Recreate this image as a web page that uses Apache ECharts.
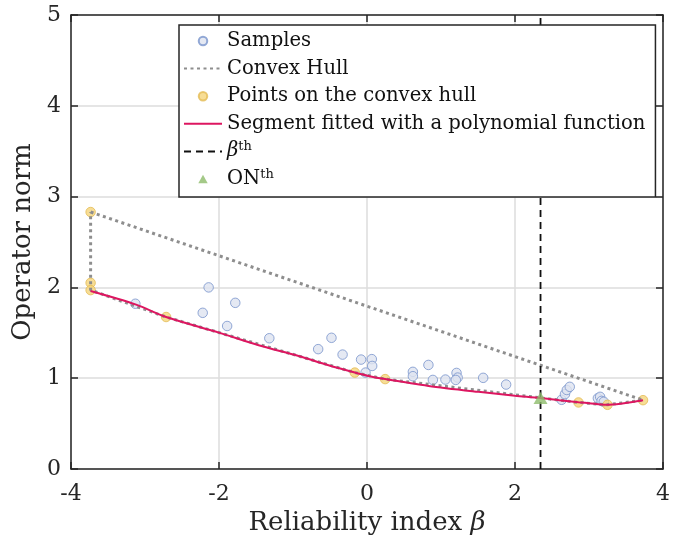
<!DOCTYPE html>
<html>
<head>
<meta charset="utf-8">
<script src="https://cdn.jsdelivr.net/npm/echarts@6/dist/echarts.min.js"></script>
<style>
  html, body { margin: 0; padding: 0; background: #fff; }
  #chart { width: 673px; height: 542px; }
</style>
</head>
<body>
<div id="chart"></div>
<script>
const FONT = 'DejaVu Serif'
const INK = '#262626'

// samples (beta, operator norm)
const sampleX = [-3.13, -2.14, -2.22, -1.78, -1.89, -1.32, -0.66, -0.48, -0.33, -0.08, 0.065, 0.07, -0.02, 0.62, 0.62, 0.83, 0.89, 1.06, 1.21, 1.225, 1.20, 1.57, 1.88, 2.63, 2.675, 2.70, 2.74, 3.12, 3.15, 3.17, 3.20]
const sampleY = [1.82, 2.00, 1.72, 1.83, 1.575, 1.44, 1.32, 1.445, 1.26, 1.205, 1.21, 1.135, 1.062, 1.07, 1.022, 1.146, 0.981, 0.985, 1.058, 1.007, 0.981, 1.004, 0.93, 0.762, 0.824, 0.87, 0.905, 0.78, 0.795, 0.75, 0.74]

// convex hull outline, in drawing order
const hullX = [-3.735, 3.73, 3.25, 2.858, 0.245, -0.165, -2.715, -3.735, -3.735, -3.735]
const hullY = [2.83, 0.758, 0.707, 0.733, 0.99, 1.062, 1.674, 1.97, 2.05, 2.83]

// points on the convex hull
const hullPtX = [-3.735, -3.735, -3.735, -2.715, -0.165, 0.245, 2.858, 3.25, 3.73]
const hullPtY = [2.83, 2.05, 1.97, 1.674, 1.062, 0.99, 0.733, 0.707, 0.758]

// fitted segment
const fitX = [-3.735, -3.13, -2.715, -2.0, -1.464, -0.924, -0.52, -0.165, 0.02, 0.245, 0.83, 1.505, 2.0, 2.345, 2.6, 2.858, 3.0, 3.23, 3.73]
const fitY = [1.96, 1.813, 1.674, 1.502, 1.363, 1.245, 1.143, 1.063, 1.025, 0.99, 0.915, 0.85, 0.808, 0.782, 0.757, 0.735, 0.725, 0.708, 0.758]

// thresholds
const betaTh = 2.345
const onTh = 0.782

const xTicks = [-4, 4, 2]   // min, max, interval
const yTicks = [0, 5, 1]

const pairs = (xs, ys) => xs.map((x, i) => [x, ys[i]])

const chart = echarts.init(document.getElementById('chart'))

const axisCommon = {
  type: 'value',
  axisLine: { show: true, onZero: false, lineStyle: { color: INK, width: 1.5 } },
  axisTick: { show: true, inside: true, length: 7, lineStyle: { color: INK, width: 1.5 } },
}

chart.setOption({
  animation: false,
  backgroundColor: '#fff',
  textStyle: { fontFamily: FONT },
  grid: { left: 71, right: 8, top: 15, bottom: 73, containLabel: false },
  legend: {
    orient: 'vertical',
    left: 179,
    top: 25,
    padding: [5, 10, 7, 4],
    itemWidth: 38,
    itemHeight: 8.5,
    itemGap: 5.6,
    backgroundColor: '#fff',
    borderColor: INK,
    borderWidth: 1.5,
    borderRadius: 0,
    selectedMode: false,
    symbolKeepAspect: true,
    textStyle: {
      fontFamily: FONT,
      fontSize: 19.6,
      lineHeight: 22,
      color: '#111',
      rich: {
        it: { fontFamily: FONT, fontSize: 19.6, lineHeight: 22, fontStyle: 'italic', color: '#111' },
        sup: { fontFamily: FONT, fontSize: 13, lineHeight: 14, verticalAlign: 'top', color: '#111' },
        n: { fontFamily: FONT, fontSize: 19.6, lineHeight: 22, color: '#111' },
      },
    },
    formatter: function(name) {
      if (name === 'beta_th') return '{it|β}{sup|th}'
      if (name === 'ON_th') return '{n|ON}{sup|th}'
      return name
    },
    data: [
      { name: 'Samples' },
      { name: 'Convex Hull', itemStyle: { opacity: 0 } },
      { name: 'Points on the convex hull' },
      { name: 'Segment fitted with a polynomial function', itemStyle: { opacity: 0 } },
      { name: 'beta_th', itemStyle: { opacity: 0 } },
      { name: 'ON_th', icon: 'path://M0 10L5.5 0L11 10Z' },
    ],
  },
  xAxis: [
    {
      ...axisCommon,
      position: 'bottom',
      min: xTicks[0],
      max: xTicks[1],
      interval: xTicks[2],
      name: 'Reliability index {it|β}',
      nameLocation: 'middle',
      nameGap: 34,
      nameTextStyle: {
        fontFamily: FONT,
        fontSize: 26,
        color: INK,
        rich: { it: { fontFamily: FONT, fontSize: 26, fontStyle: 'italic', color: INK } },
      },
      axisLabel: { fontFamily: FONT, fontSize: 22, color: INK, margin: 14 },
      splitLine: { show: true, lineStyle: { color: '#dcdcdc', width: 1.5 } },
    },
    {
      ...axisCommon,
      position: 'top',
      min: xTicks[0],
      max: xTicks[1],
      interval: xTicks[2],
      axisLabel: { show: false },
      splitLine: { show: false },
    },
  ],
  yAxis: [
    {
      ...axisCommon,
      position: 'left',
      min: yTicks[0],
      max: yTicks[1],
      interval: yTicks[2],
      name: 'Operator norm',
      nameLocation: 'middle',
      nameGap: 33,
      nameTextStyle: { fontFamily: FONT, fontSize: 26, color: INK },
      axisLabel: { fontFamily: FONT, fontSize: 22, color: INK, margin: 10 },
      splitLine: { show: true, lineStyle: { color: '#dcdcdc', width: 1.5 } },
    },
    {
      ...axisCommon,
      position: 'right',
      min: yTicks[0],
      max: yTicks[1],
      interval: yTicks[2],
      axisLabel: { show: false },
      splitLine: { show: false },
    },
  ],
  series: [
    {
      name: 'Samples',
      type: 'scatter',
      symbol: 'circle',
      symbolSize: 9.5,
      itemStyle: { color: '#dfe4f0', borderColor: '#7893cc', borderWidth: 1 },
      data: pairs(sampleX, sampleY),
    },
    {
      name: 'Convex Hull',
      type: 'line',
      symbol: 'none',
      smooth: false,
      lineStyle: { color: '#8e8e8e', width: 3, type: [3, 3.5] },
      data: pairs(hullX, hullY),
    },
    {
      name: 'Points on the convex hull',
      type: 'scatter',
      symbol: 'circle',
      symbolSize: 9.5,
      itemStyle: { color: '#f5d57a', borderColor: '#e4bb55', borderWidth: 1 },
      data: pairs(hullPtX, hullPtY),
    },
    {
      name: 'Segment fitted with a polynomial function',
      type: 'line',
      symbol: 'none',
      smooth: 0.3,
      lineStyle: { color: '#dd1660', width: 2 },
      data: pairs(fitX, fitY),
    },
    {
      name: 'beta_th',
      type: 'line',
      symbol: 'none',
      lineStyle: { color: '#111', width: 1.8, type: [7, 5] },
      data: [[betaTh, yTicks[0]], [betaTh, yTicks[1]]],
    },
    {
      name: 'ON_th',
      type: 'scatter',
      z: 5,
      symbol: 'triangle',
      symbolSize: [14, 12],
      itemStyle: { color: '#8dbb6a' },
      data: [[betaTh, onTh]],
    },
  ],
})
</script>
</body>
</html>
